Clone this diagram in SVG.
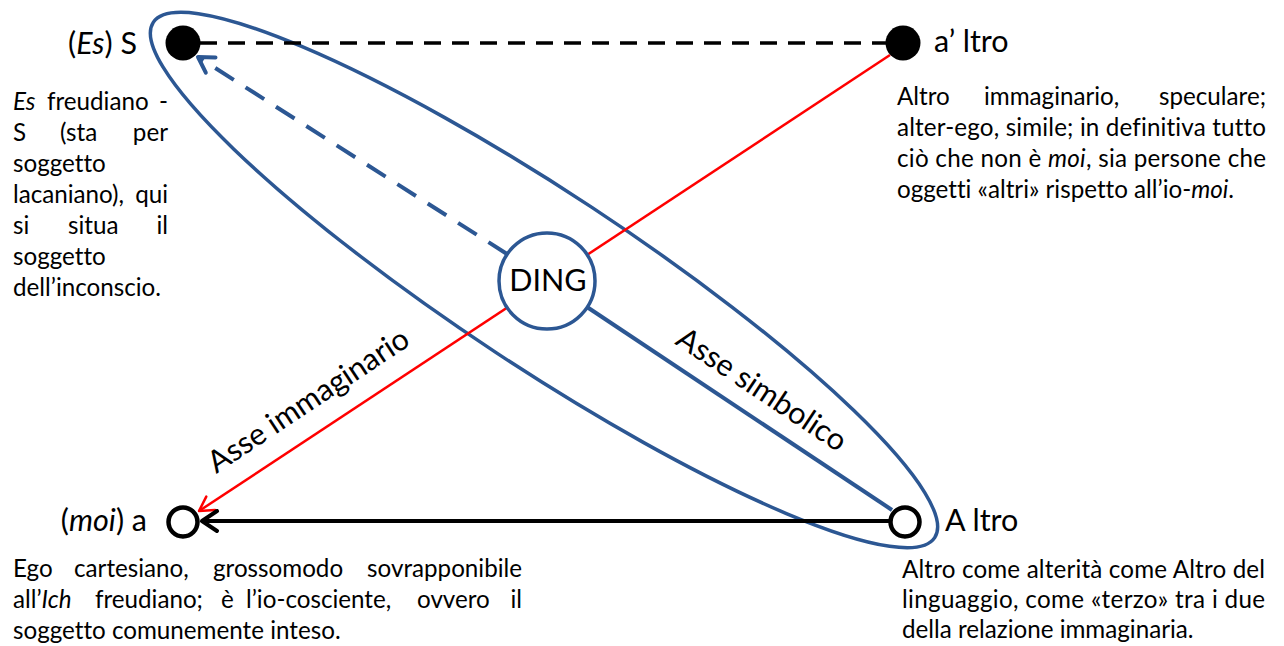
<svg xmlns="http://www.w3.org/2000/svg" width="1284" height="646" viewBox="0 0 1284 646">
<style>
text{font-family:Lato,"Liberation Sans",sans-serif;fill:#000;font-variant-ligatures:none}
.p{font-size:24.2px}
.lb{font-size:30.5px}
.e{text-anchor:end}
.m{text-anchor:middle}
.i{font-style:italic}
.blue{stroke:#2C5793;fill:none}
</style>
<defs>
<marker id="ahBlack" markerUnits="userSpaceOnUse" viewBox="-18 -12 22 24" markerWidth="22" markerHeight="24" refX="0" refY="0" orient="auto"><path d="M-15,-10 L0,0 L-15,10" fill="none" stroke="#000" stroke-width="4" stroke-linecap="round" stroke-linejoin="round"/></marker>
<marker id="ahRed" markerUnits="userSpaceOnUse" viewBox="-18 -12 22 24" markerWidth="22" markerHeight="24" refX="0" refY="0" orient="auto"><path d="M-14,-8 L0,0 L-14,8" fill="none" stroke="#FF0000" stroke-width="2.5" stroke-linecap="round" stroke-linejoin="round"/></marker>
<marker id="ahBlue" markerUnits="userSpaceOnUse" viewBox="-18 -12 22 24" markerWidth="22" markerHeight="24" refX="0" refY="0" orient="auto"><path d="M-15,-9 L0,0 L-15,9" fill="none" stroke="#2C5793" stroke-width="4" stroke-linecap="round" stroke-linejoin="round"/></marker>
</defs>
<rect width="1284" height="646" fill="#fff"/>

<g id="ellipse-simbolico">
<ellipse cx="544" cy="280" rx="468" ry="87" transform="rotate(33.4 544 280)" class="blue" stroke-width="3.5"/>
</g>

<g id="connectors">
<line x1="200" y1="43" x2="887" y2="43" stroke="#000" stroke-width="3.5" stroke-dasharray="17 11"/>
<line x1="890" y1="55" x2="199" y2="511" stroke="#FF0000" stroke-width="2.5" marker-end="url(#ahRed)"/>
<line x1="889" y1="521" x2="202" y2="521" stroke="#000" stroke-width="4" marker-end="url(#ahBlack)"/>
<line x1="507" y1="254" x2="198" y2="57" class="blue" stroke-width="4" stroke-dasharray="22 14" marker-end="url(#ahBlue)"/>
<line x1="587" y1="307" x2="892" y2="510" class="blue" stroke-width="4"/>
</g>

<g id="node-S">
<circle cx="183" cy="43" r="17.5" fill="#000"/>
<text class="lb e" x="137" y="54">(<tspan class="i">Es</tspan>) S</text>
</g>
<g id="node-a-prime">
<circle cx="903" cy="43" r="17.5" fill="#000"/>
<text class="lb" x="934" y="52">a’ ltro</text>
</g>
<g id="node-a">
<circle cx="183" cy="522" r="14.5" fill="#fff" stroke="#000" stroke-width="4.5"/>
<text class="lb e" x="147" y="531">(<tspan class="i">moi</tspan>) a</text>
</g>
<g id="node-A">
<circle cx="905" cy="522" r="14.5" fill="#fff" stroke="#000" stroke-width="4.5"/>
<text class="lb" x="945" y="531">A ltro</text>
</g>
<g id="node-DING">
<circle cx="547" cy="281" r="48" fill="#fff" stroke="#2C5793" stroke-width="3.5"/>
<text class="lb m" x="548" y="291">DING</text>
</g>

<g id="axis-labels">
<text class="lb m" x="314" y="409" transform="rotate(-33.6 314 409)">Asse immaginario</text>
<text class="lb m" x="756" y="398" transform="rotate(33.6 756 398)">Asse simbolico</text>
</g>

<g id="note-S">
<text class="p" x="13" y="110"><tspan class="i">Es</tspan></text>
<text class="p" x="47" y="110">freudiano</text>
<text class="p e" x="168" y="110">-</text>
<text class="p" x="13" y="141">S</text>
<text class="p" x="60" y="141">(sta</text>
<text class="p e" x="168" y="141">per</text>
<text class="p" x="13" y="172">soggetto</text>
<text class="p" x="13" y="203">lacaniano),</text>
<text class="p e" x="168" y="203">qui</text>
<text class="p" x="13" y="234">si</text>
<text class="p" x="68" y="234">situa</text>
<text class="p e" x="168" y="234">il</text>
<text class="p" x="13" y="265">soggetto</text>
<text class="p" x="13" y="296">dell’inconscio.</text>
</g>

<g id="note-a-prime">
<text class="p" x="897" y="105">Altro</text>
<text class="p" x="984" y="105">immaginario,</text>
<text class="p e" x="1266" y="105">speculare;</text>
<text class="p" x="897" y="136" textLength="369" lengthAdjust="spacing">alter-ego, simile; in definitiva tutto</text>
<text class="p" x="897" y="167" textLength="369" lengthAdjust="spacing">ciò che non è <tspan class="i">moi</tspan>, sia persone che</text>
<text class="p" x="897" y="198">oggetti «altri» rispetto all’io-<tspan class="i">moi</tspan>.</text>
</g>

<g id="note-a">
<text class="p" x="13" y="577">Ego</text>
<text class="p" x="74" y="577">cartesiano,</text>
<text class="p" x="213" y="577">grossomodo</text>
<text class="p e" x="522" y="577">sovrapponibile</text>
<text class="p" x="13" y="608">all’<tspan class="i">Ich</tspan></text>
<text class="p" x="95" y="608">freudiano;</text>
<text class="p" x="221" y="608">è</text>
<text class="p" x="246" y="608">l’io-cosciente,</text>
<text class="p" x="417" y="608">ovvero</text>
<text class="p e" x="522" y="608">il</text>
<text class="p" x="13" y="638.5">soggetto comunemente inteso.</text>
</g>

<g id="note-A">
<text class="p" x="902" y="578" textLength="363" lengthAdjust="spacing">Altro come alterità come Altro del</text>
<text class="p" x="902" y="608" textLength="363" lengthAdjust="spacing">linguaggio, come «terzo» tra i due</text>
<text class="p" x="902" y="638">della relazione immaginaria.</text>
</g>
</svg>
